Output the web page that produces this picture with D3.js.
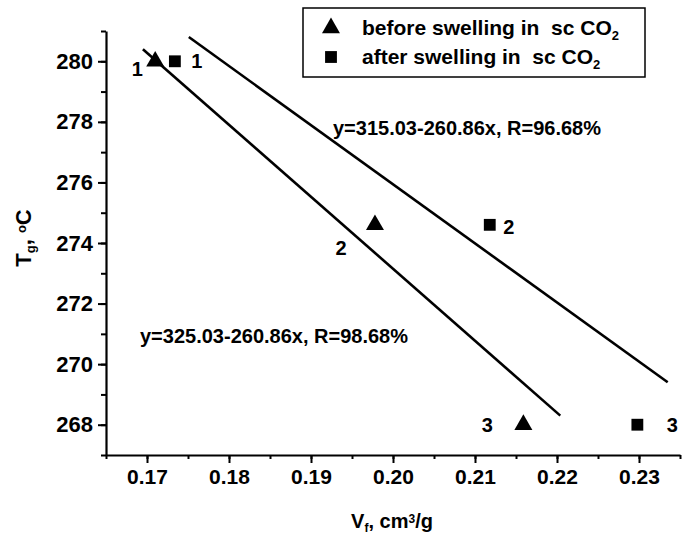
<!DOCTYPE html>
<html lang="en">
<head>
<meta charset="UTF-8">
<title>Tg vs Vf</title>
<script src="https://d3js.org/d3.v7.min.js"></script>
<style>
  body { margin: 0; background: #fff; }
  text { font-family: "Liberation Sans", Arial, sans-serif; font-weight: bold; fill: #000; }
</style>
</head>
<body>
<div id="chart"></div>
<script>
  // data
  const pointNames = ["1", "2", "3"];
  const vfBefore = [0.171, 0.1978, 0.2159];
  const tgBefore = [280, 274.6, 268];
  const vfAfter = [0.1734, 0.2118, 0.2298];
  const tgAfter = [280, 274.6, 268];
  // fitted lines, ends as drawn
  const fitBeforeX = [0.1695, 0.2204];
  const fitBeforeY = [280.4, 268.3];
  const fitAfterX = [0.1751, 0.2335];
  const fitAfterY = [280.8, 269.4];
  const eqBefore = "y=325.03-260.86x, R=98.68%";
  const eqAfter = "y=315.03-260.86x, R=96.68%";
  const xTickVals = [0.17, 0.18, 0.19, 0.20, 0.21, 0.22, 0.23];
  const yTickVals = [268, 270, 272, 274, 276, 278, 280];

  const width = 682, height = 541;
  const fs = 20;

  const svg = d3.select("#chart")
    .append("svg")
      .attr("width", width)
      .attr("height", height);

  const x = d3.scaleLinear().domain([0.165, 0.235]).range([106, 680]);
  const y = d3.scaleLinear().domain([267, 281]).range([455, 31]);

  // minor ticks
  const xMinor = d3.range(0.165, 0.2351, 0.005);
  const yMinor = d3.range(267, 281.1, 1);

  svg.append("g")
    .attr("transform", `translate(0, ${y(267)})`)
    .call(d3.axisBottom(x).tickValues(xMinor).tickSize(4).tickFormat(""))
    .call(g => g.selectAll("line").attr("stroke-width", 2))
    .call(g => g.select(".domain").remove());
  const xAxis = svg.append("g")
    .attr("transform", `translate(0, ${y(267)})`)
    .call(d3.axisBottom(x).tickValues(xTickVals).tickSize(8).tickSizeOuter(0).tickPadding(6)
      .tickFormat(d3.format(".2f")));
  xAxis.select(".domain").attr("stroke-width", 2.2);
  xAxis.selectAll("line").attr("stroke-width", 2);
  xAxis.selectAll("text").style("font-size", `${fs + 1}px`).style("font-family", null);

  svg.append("g")
    .attr("transform", `translate(${x(0.165)}, 0)`)
    .call(d3.axisLeft(y).tickValues(yMinor).tickSize(5).tickFormat(""))
    .call(g => g.selectAll("line").attr("stroke-width", 2))
    .call(g => g.select(".domain").remove());
  const yAxis = svg.append("g")
    .attr("transform", `translate(${x(0.165)}, 0)`)
    .call(d3.axisLeft(y).tickValues(yTickVals).tickSize(8).tickSizeOuter(0).tickPadding(5));
  yAxis.select(".domain").attr("stroke-width", 2.2);
  yAxis.selectAll("line").attr("stroke-width", 2);
  yAxis.selectAll("text").style("font-size", `${fs + 2}px`).style("font-family", null);

  // axis titles
  const xt = svg.append("text")
    .attr("x", 392).attr("y", 528)
    .attr("text-anchor", "middle")
    .style("font-size", `${fs}px`);
  xt.append("tspan").text("V");
  xt.append("tspan").attr("baseline-shift", "-30%").style("font-size", "12px").text("f");
  xt.append("tspan").text(", cm");
  xt.append("tspan").attr("baseline-shift", "40%").style("font-size", "12px").text("3");
  xt.append("tspan").text("/g");

  const yt = svg.append("text")
    .attr("transform", "translate(31, 238) rotate(-90)")
    .attr("text-anchor", "middle")
    .style("font-size", `${fs + 2}px`);
  yt.append("tspan").text("T");
  yt.append("tspan").attr("baseline-shift", "-30%").style("font-size", "13px").text("g");
  yt.append("tspan").text(", ");
  yt.append("tspan").attr("baseline-shift", "40%").style("font-size", "13px").text("o");
  yt.append("tspan").text("C");

  // fit lines
  const line = d3.line().x(d => x(d[0])).y(d => y(d[1]));
  svg.append("path")
    .datum(d3.zip(fitBeforeX, fitBeforeY))
    .attr("d", line)
    .attr("fill", "none").attr("stroke", "#000").attr("stroke-width", 2.6);
  svg.append("path")
    .datum(d3.zip(fitAfterX, fitAfterY))
    .attr("d", line)
    .attr("fill", "none").attr("stroke", "#000").attr("stroke-width", 2.6);

  // markers
  const tri = d3.symbol().type(d3.symbolTriangle).size(140);
  const sq = d3.symbol().type(d3.symbolSquare).size(140);

  svg.selectAll("path.before")
    .data(d3.zip(vfBefore, tgBefore))
    .join("path")
    .attr("class", "before")
    .attr("d", tri)
    .attr("transform", d => `translate(${x(d[0])}, ${y(d[1])})`);
  svg.selectAll("path.after")
    .data(d3.zip(vfAfter, tgAfter))
    .join("path")
    .attr("class", "after")
    .attr("d", sq)
    .attr("transform", d => `translate(${x(d[0])}, ${y(d[1])})`);

  // point numbers
  const beforeOffsets = [[-18, 8], [-34, 23], [-36, 0]];
  const afterOffsets = [[22, 0], [19, 2], [35, 0]];
  svg.selectAll("text.nb")
    .data(pointNames)
    .join("text")
    .attr("class", "nb")
    .attr("text-anchor", "middle")
    .attr("dy", "0.36em")
    .style("font-size", `${fs}px`)
    .attr("x", (d, i) => x(vfBefore[i]) + beforeOffsets[i][0])
    .attr("y", (d, i) => y(tgBefore[i]) + beforeOffsets[i][1])
    .text(d => d);
  svg.selectAll("text.na")
    .data(pointNames)
    .join("text")
    .attr("class", "na")
    .attr("text-anchor", "middle")
    .attr("dy", "0.36em")
    .style("font-size", `${fs}px`)
    .attr("x", (d, i) => x(vfAfter[i]) + afterOffsets[i][0])
    .attr("y", (d, i) => y(tgAfter[i]) + afterOffsets[i][1])
    .text(d => d);

  // equations
  svg.append("text").attr("x", 333).attr("y", 135).style("font-size", `${fs}px`).text(eqAfter);
  svg.append("text").attr("x", 140).attr("y", 343).style("font-size", `${fs}px`).text(eqBefore);

  // legend
  const legend = svg.append("g");
  legend.append("rect")
    .attr("x", 303).attr("y", 8).attr("width", 342).attr("height", 69)
    .attr("fill", "#fff").attr("stroke", "#000").attr("stroke-width", 1.5);
  const legendItems = [
    {sym: tri, name: "before swelling in  sc CO"},
    {sym: sq, name: "after swelling in  sc CO"}
  ];
  legendItems.forEach((d, i) => {
    const cy = 28 + i * 29;
    legend.append("path").attr("d", d.sym).attr("transform", `translate(331, ${cy})`);
    const t = legend.append("text")
      .attr("x", 362).attr("y", cy + 7)
      .attr("xml:space", "preserve")
      .style("white-space", "pre")
      .style("font-size", `${fs + 1}px`);
    t.append("tspan").text(d.name);
    t.append("tspan").attr("baseline-shift", "-35%").style("font-size", "13px").text("2");
  });
</script>
</body>
</html>
